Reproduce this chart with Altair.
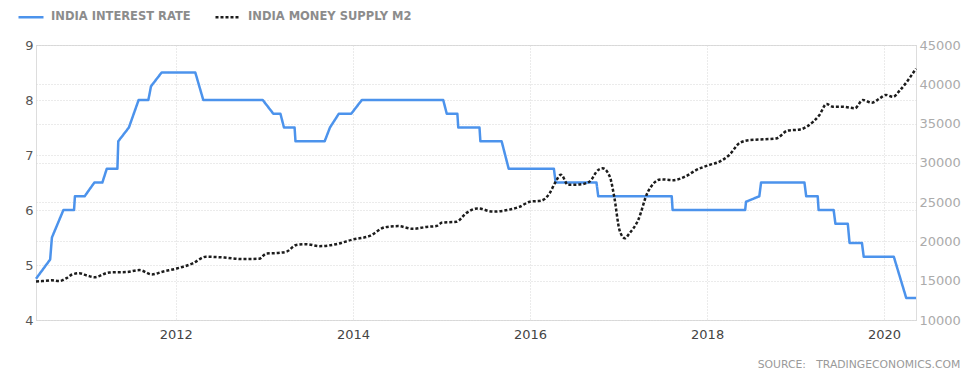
import altair as alt
import pandas as pd

RATE = "INDIA INTEREST RATE"
M2 = "INDIA MONEY SUPPLY M2"

rate_years = [2010.42, 2010.58, 2010.60, 2010.73, 2010.85, 2010.86, 2010.97, 2011.08, 2011.17, 2011.22,
              2011.34, 2011.35, 2011.47, 2011.58, 2011.69, 2011.72, 2011.84, 2012.22, 2012.31, 2012.98,
              2013.10, 2013.18, 2013.22, 2013.34, 2013.35, 2013.68, 2013.74, 2013.84, 2013.98, 2014.10,
              2015.02, 2015.06, 2015.18, 2015.19, 2015.43, 2015.44, 2015.68, 2015.76, 2016.27, 2016.29,
              2016.75, 2016.77, 2017.60, 2017.61, 2018.43, 2018.44, 2018.59, 2018.61, 2019.10, 2019.12,
              2019.25, 2019.26, 2019.43, 2019.45, 2019.59, 2019.61, 2019.75, 2019.77, 2020.11, 2020.25,
              2020.36]
rate_values = [4.75, 5.1, 5.5, 6.0, 6.0, 6.25, 6.25, 6.5, 6.5, 6.75,
               6.75, 7.25, 7.5, 8.0, 8.0, 8.25, 8.5, 8.5, 8.0, 8.0,
               7.75, 7.75, 7.5, 7.5, 7.25, 7.25, 7.5, 7.75, 7.75, 8.0,
               8.0, 7.75, 7.75, 7.5, 7.5, 7.25, 7.25, 6.75, 6.75, 6.5,
               6.5, 6.25, 6.25, 6.0, 6.0, 6.15, 6.25, 6.5, 6.5, 6.25,
               6.25, 6.0, 6.0, 5.75, 5.75, 5.4, 5.4, 5.15, 5.15, 4.4,
               4.4]

m2_years = [2010.42, 2010.49, 2010.60, 2010.68, 2010.76, 2010.83, 2010.91, 2011.00, 2011.08, 2011.25,
            2011.44, 2011.59, 2011.73, 2011.85, 2012.01, 2012.19, 2012.34, 2012.55, 2012.75, 2012.94,
            2013.02, 2013.17, 2013.25, 2013.36, 2013.47, 2013.62, 2013.81, 2014.00, 2014.19, 2014.36,
            2014.51, 2014.68, 2014.83, 2014.94, 2015.01, 2015.17, 2015.28, 2015.41, 2015.58, 2015.77,
            2015.88, 2016.00, 2016.13, 2016.22, 2016.29, 2016.35, 2016.43, 2016.56, 2016.67, 2016.77,
            2016.82, 2016.90, 2016.95, 2017.01, 2017.07, 2017.12, 2017.22, 2017.33, 2017.48, 2017.61,
            2017.76, 2017.88, 2018.03, 2018.14, 2018.25, 2018.37, 2018.48, 2018.65, 2018.78, 2018.91,
            2019.05, 2019.20, 2019.27, 2019.35, 2019.42, 2019.53, 2019.67, 2019.76, 2019.86, 2019.95,
            2020.02, 2020.10, 2020.18, 2020.36]
m2_values = [14900, 14950, 15050, 14950, 15300, 15800, 15950, 15650, 15450, 16050,
             16100, 16350, 15800, 16150, 16550, 17200, 18050, 17950, 17750, 17800,
             18450, 18550, 18700, 19550, 19650, 19400, 19650, 20250, 20700, 21800,
             21950, 21600, 21850, 21950, 22400, 22500, 23600, 24200, 23800, 24050,
             24400, 25050, 25200, 26100, 27600, 28500, 27200, 27250, 27600, 29100,
             29300, 28250, 25700, 21450, 20400, 21000, 22700, 26300, 27900, 27800,
             28300, 29100, 29750, 30150, 31000, 32550, 32900, 33000, 33100, 34100,
             34250, 35250, 36100, 37500, 37150, 37150, 36950, 38000, 37650, 38200,
             38650, 38400, 39250, 42000]

x_ticks = [2012, 2014, 2016, 2018, 2020]
left_ticks = [4, 5, 6, 7, 8, 9]
right_ticks = [10000, 15000, 20000, 25000, 30000, 35000, 40000, 45000]
x_range = [2010.42, 2020.36]

BLUE = "#4c93ec"
BLACK = "#1c1c1c"
FONT = "DejaVu Sans"


def to_ts(y):
    year = int(y)
    start = pd.Timestamp(year=year, month=1, day=1)
    end = pd.Timestamp(year=year + 1, month=1, day=1)
    return start + (end - start) * (y - year)


def to_iso(y):
    return to_ts(y).strftime("%Y-%m-%dT%H:%M:%S")


def to_dt(y):
    t = to_ts(y)
    return alt.DateTime(year=t.year, month=t.month, date=t.day, hours=t.hour, minutes=t.minute)


df_rate = pd.DataFrame({"date": [to_iso(v) for v in rate_years], "value": rate_values, "series": RATE})
df_m2 = pd.DataFrame({"date": [to_iso(v) for v in m2_years], "value": m2_values, "series": M2})

grid = dict(grid=True, gridColor="#d6d6d6", gridDash=[1, 2], gridWidth=1,
            domain=False, ticks=False, title=None, labelFont=FONT, labelFontSize=13)

x_enc = alt.X(
    "date:T",
    scale=alt.Scale(domain=[to_dt(x_range[0]), to_dt(x_range[1])]),
    axis=alt.Axis(values=[alt.DateTime(year=y, month=1, date=1) for y in x_ticks],
                  format="%Y", labelColor="#444", labelPadding=8, **grid),
)

legend = alt.Legend(title=None, orient="none", legendX=-19, legendY=-42, direction="horizontal",
                    symbolType="stroke", symbolSize=625, symbolStrokeWidth=2.5,
                    labelFont=FONT, labelFontSize=11.5, labelFontWeight="bold", labelColor="#8c8c8c",
                    labelOffset=6, labelLimit=400, columnPadding=19, symbolOffset=0, padding=0)

color_enc = alt.Color("series:N", scale=alt.Scale(domain=[RATE, M2], range=[BLUE, BLACK]), legend=legend)
dash_enc = alt.StrokeDash("series:N", scale=alt.Scale(domain=[RATE, M2], range=[[1, 0], [3, 2]]), legend=legend)

rate_chart = alt.Chart(df_rate).mark_line(strokeWidth=2.5, strokeJoin="round").encode(
    x=x_enc,
    y=alt.Y("value:Q", scale=alt.Scale(domain=[4, 9], nice=False, zero=False),
            axis=alt.Axis(orient="left", values=left_ticks, labelColor="#555", labelPadding=3, **grid)),
    color=color_enc,
    strokeDash=dash_enc,
)

m2_chart = alt.Chart(df_m2).mark_line(strokeWidth=2.5, interpolate="monotone").encode(
    x=x_enc,
    y=alt.Y("value:Q", scale=alt.Scale(domain=[10000, 45000], nice=False, zero=False),
            axis=alt.Axis(orient="right", values=right_ticks, format="d", labelColor="#ababab",
                          labelPadding=3, **grid)),
    color=color_enc,
    strokeDash=dash_enc,
)

chart = alt.layer(rate_chart, m2_chart).resolve_scale(y="independent").properties(
    width=880,
    height=275,
    autosize=alt.AutoSizeParams(type="none"),
    padding={"left": 28, "top": 37, "right": 48, "bottom": 53},
    title=alt.TitleParams("SOURCE:\u00a0\u00a0 TRADINGECONOMICS.COM", orient="bottom", anchor="end",
                          frame="bounds", font=FONT, fontSize=10.8, fontWeight="normal",
                          color="#9a9a9a", offset=18),
).configure_view(stroke=None).configure(background="white")

chart.save("out.html", embed_options={"renderer": "svg", "actions": False})
